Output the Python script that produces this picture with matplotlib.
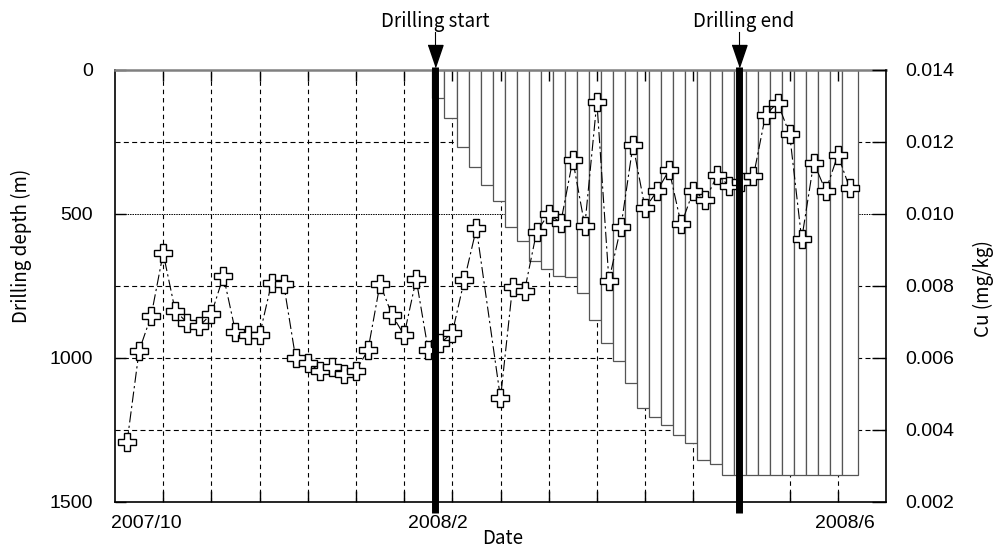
import matplotlib
matplotlib.use("Agg")
import matplotlib.pyplot as plt
import numpy as np

plt.rcParams['font.family'] = ['Liberation Sans', 'DejaVu Sans']
jp = ['Noto Sans CJK JP', 'DejaVu Sans']

# sample number (category axis, 64 slots) and Cu concentration (mg/kg)
sample_no = list(range(1, 31)) + list(range(32, 62))
cu = [0.00366, 0.00620, 0.00717, 0.00891, 0.00731, 0.00698, 0.00689, 0.00722,
      0.00828, 0.00673, 0.00664, 0.00664, 0.00809, 0.00806, 0.00599, 0.00585,
      0.00565, 0.00576, 0.00556, 0.00565, 0.00622, 0.00806, 0.00719, 0.00664,
      0.00819, 0.00622, 0.00641, 0.00670, 0.00817, 0.00960,
      0.00488, 0.00798, 0.00787, 0.00951, 0.01000, 0.00976, 0.01150, 0.00967,
      0.01312, 0.00815, 0.00965, 0.01192, 0.01016, 0.01064, 0.01122, 0.00971,
      0.01064, 0.01039, 0.01108, 0.01078, 0.01090, 0.01106, 0.01275, 0.01309,
      0.01222, 0.00930, 0.01143, 0.01064, 0.01164, 0.01071]

# drilling depth (m), one column per sampling interval after drilling start
depth = [98, 166, 268, 336, 400, 455, 544, 594, 663, 692, 715, 718, 773, 868,
         947, 1010, 1088, 1175, 1204, 1233, 1267, 1296, 1354, 1369,
         1405, 1405, 1405, 1405, 1405, 1405, 1405, 1405, 1405, 1405, 1405]
depth_first = 26.35

n_slots = 64
grid_x = list(range(4, 64, 4))
date_labels = ['2007/10', '2008/2', '2008/4', '2008/6']
date_pos = [2.6, 26.8, 40.0, 60.6]
drill_start = 26.55
drill_end = 51.8

depth_ticks = [0, 500, 1000, 1500]
depth_grid = [250, 500, 750, 1000, 1250]
cu_ticks = [0.002, 0.004, 0.006, 0.008, 0.010, 0.012, 0.014]

fig = plt.figure(figsize=(9.98, 5.5), dpi=100)
ax = fig.add_axes([115/998, 48/550, 771/998, 432/550])
ax.set_xlim(0, n_slots)
ax.set_ylim(1500, 0)

# grid
for gx in grid_x:
    ax.axvline(gx, color='black', lw=0.8, ls=(0, (4, 3.5)), zorder=0.5)
for gy in depth_grid:
    if gy == 500:
        ax.axhline(gy, color='black', lw=0.7, ls=(0, (1.5, 1)), zorder=0.5)
    else:
        ax.axhline(gy, color='black', lw=0.8, ls=(0, (4.5, 3)), zorder=0.5)

# drilling depth columns
left = depth_first + np.arange(len(depth))
widths = np.ones(len(depth))
widths[-1] = 1.3
ax.bar(left, depth, width=widths, bottom=0, align='edge', color='white',
       edgecolor='#555555', linewidth=0.9, zorder=1)

ax.set_yticks(depth_ticks)
ax.set_yticklabels([str(t) for t in depth_ticks])
ax.set_xticks(grid_x)
ax.set_xticklabels([])
ax.set_xticks(date_pos, minor=True)
ax.set_xticklabels(date_labels, minor=True)
ax.tick_params(axis='x', which='major', direction='in', length=8, top=True, width=1)
ax.tick_params(axis='x', which='minor', length=0, pad=9, labelsize=14)
ax.tick_params(axis='y', direction='in', length=8, pad=16, labelsize=14, width=1)
for s in ['left', 'bottom']:
    ax.spines[s].set_linewidth(1.2)
ax.spines['top'].set_color('#808080')
ax.spines['top'].set_linewidth(1.8)
ax.spines['right'].set_visible(False)

# Cu on right axis
ax2 = ax.twinx()
ax2.set_ylim(0.002, 0.014)
ax2.plot(sample_no, cu, color='black', lw=0.8, ls=(0, (10, 3, 2, 3)),
         marker='P', ms=12.5, mfc='white', mec='black', mew=1.0, zorder=3)
ax2.set_yticks(cu_ticks)
ax2.set_yticklabels(['%.3f' % t for t in cu_ticks])
ax2.tick_params(axis='y', direction='in', length=10, pad=14, labelsize=14, width=1)
for s in ['top', 'left', 'bottom']:
    ax2.spines[s].set_visible(False)
ax2.spines['right'].set_linewidth(1.2)

# drilling start / end markers
tr = ax2.get_xaxis_transform()
tri = [(-7.5, 11), (7.5, 11), (0, -11)]
for xpos, txt, tx in [(drill_start, 'Drilling start', 26.55), (drill_end, 'Drilling end', 52.2)]:
    ax2.plot([xpos, xpos], [1.008, -0.025], transform=tr, color='black', lw=5,
             solid_capstyle='butt', clip_on=False, zorder=10)
    ax2.plot([xpos], [1.0324], transform=tr, marker=tri, ms=15.8, color='black',
             clip_on=False, zorder=10)
    ax2.plot([xpos, xpos], [1.055, 1.088], transform=tr, color='black', lw=0.8,
             clip_on=False, zorder=10)
    ax2.text(tx, 1.113, txt, transform=tr, ha='center', va='center',
             fontsize=13.5, family=jp)

fig.text(21/998, 1 - 246/550, 'Drilling depth (m)', rotation=90, ha='center',
         va='center', fontsize=13.5, family=jp)
fig.text(983/998, 1 - 289/550, 'Cu (mg/kg)', rotation=90, ha='center',
         va='center', fontsize=13.5, family=jp)
fig.text(503/998, 1 - 538/550, 'Date', ha='center', va='center',
         fontsize=13.5, family=jp)

fig.savefig('out.png', dpi=100)
